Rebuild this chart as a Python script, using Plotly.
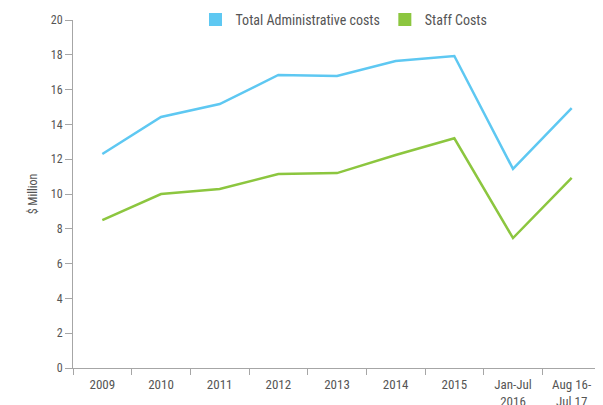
import plotly.graph_objects as go

# --- data ---
periods = ['2009', '2010', '2011', '2012', '2013', '2014', '2015',
           'Jan-Jul<br>2016', 'Aug 16-<br>Jul 17']
total_admin = [12.3, 14.43, 15.17, 16.84, 16.78, 17.64, 17.93, 11.44, 14.94]
staff_costs = [8.5, 10.0, 10.29, 11.15, 11.2, 12.24, 13.2, 7.47, 10.92]

BLUE = '#5ec8f2'
GREEN = '#8cc63f'
AXIS = '#a6a6a6'
TEXT = '#555555'
FONT = 'Roboto Condensed, Roboto, Liberation Sans Narrow, sans-serif'

fig = go.Figure()

# lines
fig.add_trace(go.Scatter(x=periods, y=total_admin, mode='lines', name='Total Administrative costs',
                         line=dict(color=BLUE, width=2.5), showlegend=False))
fig.add_trace(go.Scatter(x=periods, y=staff_costs, mode='lines', name='Staff Costs',
                         line=dict(color=GREEN, width=2.5), showlegend=False))

# square legend keys
for name, color in [('Total Administrative costs', BLUE), ('Staff Costs', GREEN)]:
    fig.add_trace(go.Scatter(x=[None], y=[None], mode='markers', name=name,
                             marker=dict(symbol='square', size=13, color=color)))

# page body has an 8px margin, so the figure is a bit smaller than the window
fig.update_layout(
    width=595, height=397,
    margin=dict(l=65, r=2, t=12, b=37, autoexpand=False),
    paper_bgcolor='white', plot_bgcolor='white',
    font=dict(family=FONT, size=12, color=TEXT),
    legend=dict(orientation='h', x=0.232, y=1.0, xanchor='left', yanchor='middle',
                font=dict(size=14, color=TEXT), itemwidth=30, tracegroupgap=0),
    xaxis=dict(type='category', range=[-0.5, 8.5], showgrid=False, zeroline=False,
               showline=True, linecolor=AXIS, linewidth=1,
               ticks='outside', tickson='boundaries', ticklen=6, tickcolor=AXIS,
               ticklabelstandoff=4,
               tickfont=dict(size=13, color=TEXT)),
    yaxis=dict(range=[0, 20], dtick=2, showgrid=False, zeroline=False,
               showline=True, linecolor=AXIS, linewidth=1,
               ticks='outside', ticklen=7, tickcolor=AXIS,
               tickfont=dict(size=12, color=TEXT),
               title=dict(text='$ Million', font=dict(size=12, color=TEXT), standoff=10)),
)

fig.write_html("out.html")
